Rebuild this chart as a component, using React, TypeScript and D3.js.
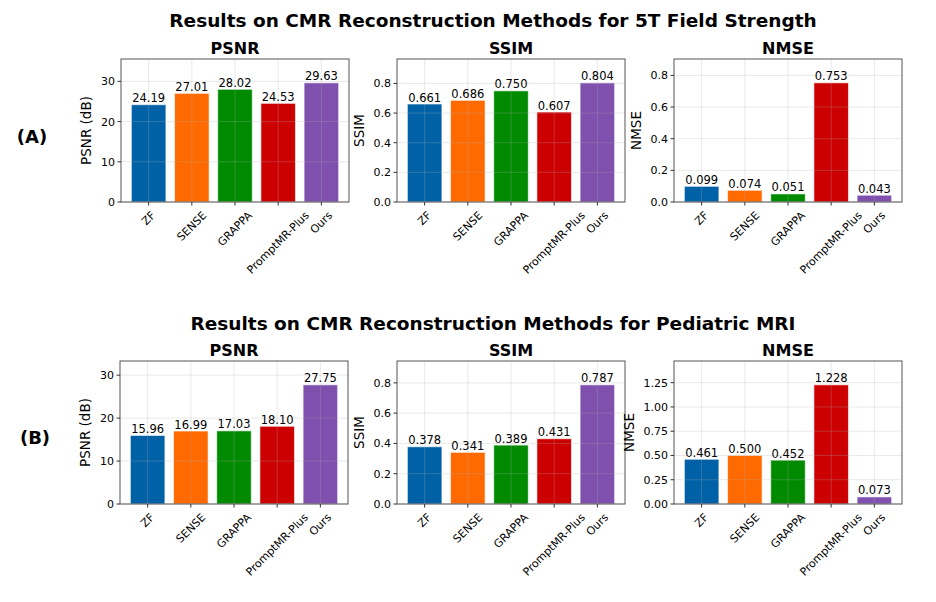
import React, { useEffect, useRef } from "react";
import * as d3 from "d3";

const methods = ["ZF", "SENSE", "GRAPPA", "PromptMR-Plus", "Ours"];
const barColors = ["#0061a7", "#ff6a00", "#008a00", "#cc0000", "#7f50ae"];

const titleA = "Results on CMR Reconstruction Methods for 5T Field Strength";
const titleB = "Results on CMR Reconstruction Methods for Pediatric MRI";

const psnrA = [24.19, 27.01, 28.02, 24.53, 29.63];
const ssimA = [0.661, 0.686, 0.75, 0.607, 0.804];
const nmseA = [0.099, 0.074, 0.051, 0.753, 0.043];
const psnrB = [15.96, 16.99, 17.03, 18.1, 27.75];
const ssimB = [0.378, 0.341, 0.389, 0.431, 0.787];
const nmseB = [0.461, 0.5, 0.452, 1.228, 0.073];

const psnrTicks = [0, 10, 20, 30];
const ssimTicks = [0, 0.2, 0.4, 0.6, 0.8];
const nmseTicksA = [0, 0.2, 0.4, 0.6, 0.8];
const nmseTicksB = [0, 0.25, 0.5, 0.75, 1.0, 1.25];

type Panel = {
  values: number[];
  title: string;
  ylabel: string;
  ticks: number[];
  tickFmt: (v: number) => string;
  valFmt: (v: number) => string;
  left: number;
  top: number;
};

const W = 228;
const H = 143;
const FONT = "DejaVu Sans, sans-serif";

export default function App() {
  const ref = useRef<SVGSVGElement>(null);

  useEffect(() => {
    const svg = d3.select(ref.current);
    svg.selectAll("*").remove();

    const f2 = (v: number) => v.toFixed(2);
    const f3 = (v: number) => v.toFixed(3);
    const f0 = (v: number) => d3.format("d")(v);
    const f1 = (v: number) => v.toFixed(1);

    const panels: Panel[] = [
      { values: psnrA, title: "PSNR", ylabel: "PSNR (dB)", ticks: psnrTicks, tickFmt: f0, valFmt: f2, left: 121, top: 59 },
      { values: ssimA, title: "SSIM", ylabel: "SSIM", ticks: ssimTicks, tickFmt: f1, valFmt: f3, left: 397, top: 59 },
      { values: nmseA, title: "NMSE", ylabel: "NMSE", ticks: nmseTicksA, tickFmt: f1, valFmt: f3, left: 674, top: 59 },
      { values: psnrB, title: "PSNR", ylabel: "PSNR (dB)", ticks: psnrTicks, tickFmt: f0, valFmt: f2, left: 120, top: 361 },
      { values: ssimB, title: "SSIM", ylabel: "SSIM", ticks: ssimTicks, tickFmt: f1, valFmt: f3, left: 397, top: 361 },
      { values: nmseB, title: "NMSE", ylabel: "NMSE", ticks: nmseTicksB, tickFmt: f2, valFmt: f3, left: 674, top: 361 },
    ];

    // suptitles and row labels
    svg.append("text").attr("x", 493).attr("y", 27).attr("text-anchor", "middle")
      .attr("font-family", FONT).attr("font-weight", "bold").attr("font-size", 18.5).text(titleA);
    svg.append("text").attr("x", 493).attr("y", 330).attr("text-anchor", "middle")
      .attr("font-family", FONT).attr("font-weight", "bold").attr("font-size", 18.5).text(titleB);
    svg.append("text").attr("x", 32).attr("y", 143).attr("text-anchor", "middle")
      .attr("font-family", FONT).attr("font-weight", "bold").attr("font-size", 18).text("(A)");
    svg.append("text").attr("x", 35).attr("y", 444).attr("text-anchor", "middle")
      .attr("font-family", FONT).attr("font-weight", "bold").attr("font-size", 18).text("(B)");

    panels.forEach((p) => {
      const g = svg.append("g").attr("transform", `translate(${p.left},${p.top})`);
      const x = d3.scaleLinear().domain([-0.64, 4.64]).range([0, W]);
      const ymax = d3.max(p.values)! * 1.2;
      const y = d3.scaleLinear().domain([0, ymax]).range([H, 0]);
      const bw = x(0.8) - x(0);

      // bars
      g.selectAll("rect.bar").data(p.values).enter().append("rect")
        .attr("x", (_, i) => x(i - 0.4)).attr("y", (d) => y(d))
        .attr("width", bw).attr("height", (d) => H - y(d))
        .attr("fill", (_, i) => barColors[i])
        .attr("stroke", "#ffffff").attr("stroke-opacity", 0.6).attr("stroke-width", 1);

      // grid (drawn above bars, faint)
      g.selectAll("line.gy").data(p.ticks).enter().append("line")
        .attr("x1", 0).attr("x2", W).attr("y1", (d) => y(d)).attr("y2", (d) => y(d))
        .attr("stroke", "#b0b0b0").attr("stroke-opacity", 0.35).attr("stroke-width", 0.8);
      g.selectAll("line.gx").data(methods).enter().append("line")
        .attr("x1", (_, i) => x(i)).attr("x2", (_, i) => x(i)).attr("y1", 0).attr("y2", H)
        .attr("stroke", "#b0b0b0").attr("stroke-opacity", 0.35).attr("stroke-width", 0.8);

      // value labels
      g.selectAll("text.val").data(p.values).enter().append("text")
        .attr("x", (_, i) => x(i)).attr("y", (d) => y(d) - 2.5)
        .attr("text-anchor", "middle").attr("font-family", FONT).attr("font-size", 11.5)
        .attr("fill", "#000").text((d) => p.valFmt(d));

      // frame
      g.append("rect").attr("x", 0).attr("y", 0).attr("width", W).attr("height", H)
        .attr("fill", "none").attr("stroke", "#555").attr("stroke-width", 1);

      // y ticks
      const yt = g.selectAll("g.yt").data(p.ticks).enter().append("g")
        .attr("transform", (d) => `translate(0,${y(d)})`);
      yt.append("line").attr("x1", -3.5).attr("x2", 0).attr("stroke", "#333");
      const ytl = yt.append("text").attr("x", -6).attr("dy", "0.36em").attr("text-anchor", "end")
        .attr("font-family", FONT).attr("font-size", 11).text((d) => p.tickFmt(d));
      let maxW = 0;
      ytl.each(function () {
        maxW = Math.max(maxW, (this as SVGTextElement).getComputedTextLength());
      });

      // x ticks
      const xt = g.selectAll("g.xt").data(methods).enter().append("g")
        .attr("transform", (_, i) => `translate(${x(i)},${H})`);
      xt.append("line").attr("y1", 0).attr("y2", 3.5).attr("stroke", "#333");
      xt.each(function (d) {
        const gg = d3.select(this);
        const t = gg.append("text").attr("text-anchor", "middle").attr("dominant-baseline", "central")
          .attr("font-family", FONT).attr("font-size", 11).text(d);
        const w = (t.node() as SVGTextElement).getComputedTextLength();
        const h = 11 * 1.05;
        const bh = (w + h) * Math.SQRT1_2;
        t.attr("transform", `translate(0,${7.5 + bh / 2}) rotate(-45)`);
      });

      // title
      g.append("text").attr("x", W / 2).attr("y", -5).attr("text-anchor", "middle")
        .attr("font-family", FONT).attr("font-weight", "bold").attr("font-size", 16).text(p.title);

      // y label
      const lx = -6 - maxW - 10;
      g.append("text").attr("transform", `translate(${lx},${H / 2}) rotate(-90)`)
        .attr("text-anchor", "middle").attr("font-family", FONT).attr("font-size", 13.5)
        .text(p.ylabel);
    });
  }, []);

  return (
    <svg ref={ref} width={936} height={602} style={{ position: "absolute", left: 0, top: 0, background: "#fff" }} />
  );
}
